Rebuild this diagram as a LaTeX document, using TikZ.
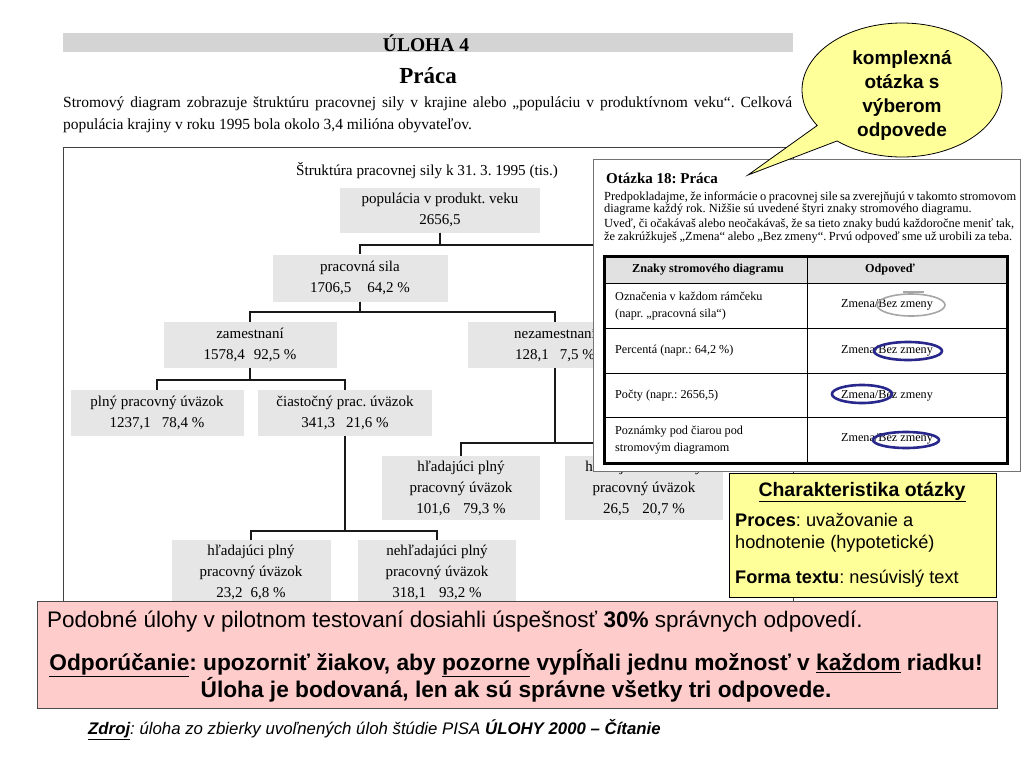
\documentclass[tikz,border=0pt]{standalone}
\usepackage{fontspec}
\setmainfont{Liberation Serif}
\setsansfont{Liberation Sans}
\newfontfamily\arialf{Liberation Sans}
\frenchspacing
\definecolor{hdrgray}{RGB}{212,212,212}
\definecolor{boxgray}{RGB}{230,230,230}
\definecolor{pinkbg}{RGB}{255,204,204}
\definecolor{yelbg}{RGB}{255,255,153}
\definecolor{circblue}{RGB}{40,40,140}
\definecolor{tblgray}{RGB}{225,225,225}
\tikzset{
  treebox/.style={fill=boxgray, inner sep=0pt, align=center, font=\fontsize{15}{21}\selectfont},
  conn/.style={line width=2pt, black!90},
  qtext/.style={inner sep=0pt, anchor=west, font=\fontsize{12.4}{13.5}\selectfont},
  ttext/.style={inner sep=0pt, anchor=west, font=\fontsize{12.2}{17}\selectfont},
  bluering/.style={draw=circblue, line width=2.6pt},
}
\begin{document}
\begin{tikzpicture}[x=1pt,y=-1pt]
\useasboundingbox (0,0) rectangle (1024,768);
\fill[white] (0,0) rectangle (1024,768);
% header
\node[fill=hdrgray, minimum width=730, minimum height=19, inner sep=0pt, anchor=north west] (bar) at (63,33) {};
\node[font=\bfseries\fontsize{19.5}{20}\selectfont, inner sep=0pt] (uloha) at (426,43) {ÚLOHA 4};
\node[font=\bfseries\fontsize{23}{24}\selectfont, inner sep=0pt] (praca) at (428,76) {Práca};
\node[inner sep=0pt, anchor=west, font=\fontsize{15.5}{16}\selectfont] (par1) at (63,104) {\makebox[729pt][s]{Stromový diagram zobrazuje štruktúru pracovnej sily v krajine alebo „populáciu v produktívnom veku“. Celková}};
\node[inner sep=0pt, anchor=west, font=\fontsize{15.5}{16}\selectfont] (par2) at (63,126) {populácia krajiny v roku 1995 bola okolo 3,4 milióna obyvateľov.};
% tree frame
\node[draw=black!75, line width=0.9pt, minimum width=730, minimum height=455, inner sep=0pt, anchor=north west] (frame) at (63,147) {};
\node[inner sep=0pt, font=\fontsize{15.2}{16}\selectfont] (ttl) at (427,171) {Štruktúra pracovnej sily k 31. 3. 1995 (tis.)};
% tree nodes
\node[treebox, minimum width=200, minimum height=45] (n0) at (440,210) {populácia v produkt. veku\\2656,5};
\node[treebox, minimum width=175, minimum height=47] (n1) at (360,278) {pracovná sila\\1706,5\hspace{16pt}64,2 \%};
\node[treebox, minimum width=173, minimum height=46] (n2) at (250,345) {zamestnaní\\1578,4\hspace{9pt}92,5 \%};
\node[treebox, minimum width=174, minimum height=46] (n3) at (555,345) {nezamestnaní\\128,1\hspace{11pt}7,5 \%};
\node[treebox, minimum width=173, minimum height=46] (n4) at (157,413) {plný pracovný úväzok\\1237,1\hspace{11pt}78,4 \%};
\node[treebox, minimum width=174, minimum height=46] (n5) at (345,413) {čiastočný prac. úväzok\\341,3\hspace{11pt}21,6 \%};
\node[treebox, minimum width=158, minimum height=64] (n6) at (461,488) {hľadajúci plný\\pracovný úväzok\\101,6\hspace{13pt}79,3 \%};
\node[treebox, minimum width=158, minimum height=64] (n7) at (644,488) {hľadajúci čiastočný\\pracovný úväzok\\26,5\hspace{13pt}20,7 \%};
\node[treebox, minimum width=159, minimum height=64] (n8) at (251,572) {hľadajúci plný\\pracovný úväzok\\23,2\hspace{8pt}6,8 \%};
\node[treebox, minimum width=158, minimum height=64] (n9) at (437,572) {nehľadajúci plný\\pracovný úväzok\\318,1\hspace{13pt}93,2 \%};
\coordinate (hid) at (720,260);
% connectors
\draw[conn] (n0.south) -- ++(0,12.5) -| (n1.north);
\draw[conn] (n0.south) -- ++(0,12.5) -| (hid);
\draw[conn] (n1.south) -- ++(0,10.5) -| (n2.north);
\draw[conn] (n1.south) -- ++(0,10.5) -| (n3.north);
\draw[conn] (n2.south) -- ++(0,12) -| (n4.north);
\draw[conn] (n2.south) -- ++(0,12) -| (n5.north);
\draw[conn] (n5.south) -- ++(0,95) -| (n8.north);
\draw[conn] (n5.south) -- ++(0,95) -| (n9.north);
\draw[conn] (n3.south) -- ++(0,75) -| (n6.north);
\draw[conn] (n3.south) -- ++(0,75) -| (n7.north);
% question box
\node[draw=black!55, line width=0.9pt, fill=white, minimum width=427, minimum height=312, inner sep=0pt, anchor=north west] (qbox) at (593,159) {};
\node[inner sep=0pt, anchor=west, font=\bfseries\fontsize{15}{16}\selectfont] (qtitle) at (606,178) {Otázka 18: Práca};
\node[qtext] (q1) at (604,197) {\makebox[412pt][s]{Predpokladajme, že informácie o pracovnej sile sa zverejňujú v takomto stromovom}};
\node[qtext] (q2) at (604,210) {diagrame každý rok. Nižšie sú uvedené štyri znaky stromového diagramu.};
\node[qtext] (q3) at (604,224) {\makebox[410pt][s]{Uveď, či očakávaš alebo neočakávaš, že sa tieto znaky budú každoročne meniť tak,}};
\node[qtext] (q4) at (604,238) {\makebox[408pt][s]{že zakrúžkuješ „Zmena“ alebo „Bez zmeny“. Prvú odpoveď sme už urobili za teba.}};
% table
\fill[tblgray] (603,255) rectangle (1006,283);
\draw[line width=1pt] (603,283) -- (1006,283);
\draw[line width=0.8pt] (603,328) -- (1006,328);
\draw[line width=0.8pt] (603,373) -- (1006,373);
\draw[line width=0.8pt] (603,417) -- (1006,417);
\draw[line width=0.8pt] (807,255) -- (807,462);
\node[draw, line width=3pt, minimum width=403, minimum height=207, inner sep=0pt, anchor=north west] (tbl) at (603,255) {};
\node[inner sep=0pt, font=\bfseries\fontsize{12.2}{13}\selectfont] (h1) at (708,270) {Znaky stromového diagramu};
\node[inner sep=0pt, font=\bfseries\fontsize{12.2}{13}\selectfont] (h2) at (890,270) {Odpoveď};
\node[ttext, align=left] (r1) at (615,306) {Označenia v každom rámčeku\\(napr. „pracovná sila“)};
\node[ttext] (r2) at (615,351) {Percentá (napr.: 64,2 \%)};
\node[ttext] (r3) at (615,396) {Počty (napr.: 2656,5)};
\node[ttext, align=left] (r4) at (615,440) {Poznámky pod čiarou pod\\stromovým diagramom};
\node[ttext, anchor=center] (a1) at (887,305) {Zmena/Bez zmeny};
\node[ttext, anchor=center] (a2) at (887,351) {Zmena/Bez zmeny};
\node[ttext, anchor=center] (a3) at (887,396) {Zmena/Bez zmeny};
\node[ttext, anchor=center] (a4) at (887,439) {Zmena/Bez zmeny};
\draw[gray!70, line width=1.6pt] (911,305) ellipse [x radius=34, y radius=11];
\draw[gray!70, line width=1.6pt] (903,292) -- (924,292);
\draw[bluering] (908,351) ellipse [x radius=34, y radius=9];
\draw[bluering] (862,394) ellipse [x radius=30, y radius=9];
\draw[bluering] (906,440) ellipse [x radius=33, y radius=8];
% callout
\draw[fill=yelbg, line width=0.8pt] (748,175) -- plot[domain=148:490.5, samples=120, smooth] ({902+100*cos(\x)},{90+67*sin(\x)}) -- cycle;
\node[align=center, inner sep=0pt, font=\arialf\bfseries\fontsize{19}{24}\selectfont] (callout) at (902,96) {komplexná\\otázka s\\výberom\\odpovede};
% yellow box
\node[draw, line width=0.9pt, fill=yelbg, minimum width=267, minimum height=124, inner sep=0pt, anchor=north west] (ybox) at (729,473) {};
\node[inner sep=0pt, font=\arialf\bfseries\fontsize{19.5}{20}\selectfont] (ytitle) at (862,492) {\underline{Charakteristika otázky}};
\node[inner sep=0pt, anchor=west, align=left, font=\arialf\fontsize{18.2}{22}\selectfont] (yproc) at (735,533) {\textbf{Proces}: uvažovanie a\\hodnotenie (hypotetické)};
\node[inner sep=0pt, anchor=west, font=\arialf\fontsize{18.2}{20}\selectfont] (yform) at (735,579) {\textbf{Forma textu}: nesúvislý text};
% pink box
\node[draw=black!70, line width=0.9pt, fill=pinkbg, minimum width=960, minimum height=107, inner sep=0pt, anchor=north west] (pbox) at (37,601) {};
\node[inner sep=0pt, anchor=west, font=\arialf\fontsize{22.5}{24}\selectfont] (p1) at (47,622) {Podobné úlohy v pilotnom testovaní dosiahli úspešnosť \textbf{30\%} správnych odpovedí.};
\node[inner sep=0pt, font=\arialf\bfseries\fontsize{22.7}{24}\selectfont] (p2) at (516,663) {\underline{Odporúčanie}: upozorniť žiakov, aby \underline{pozorne} vypĺňali jednu možnosť v \underline{každom} riadku!};
\node[inner sep=0pt, font=\arialf\bfseries\fontsize{22.7}{24}\selectfont] (p3) at (516,690) {Úloha je bodovaná, len ak sú správne všetky tri odpovede.};
% source
\node[inner sep=0pt, anchor=west, font=\arialf\itshape\fontsize{16.8}{18}\selectfont] (src) at (88,730) {\textbf{\underline{Zdroj}}: úloha zo zbierky uvoľnených úloh štúdie PISA \textbf{ÚLOHY 2000 – Čítanie}};
\end{tikzpicture}
\end{document}
